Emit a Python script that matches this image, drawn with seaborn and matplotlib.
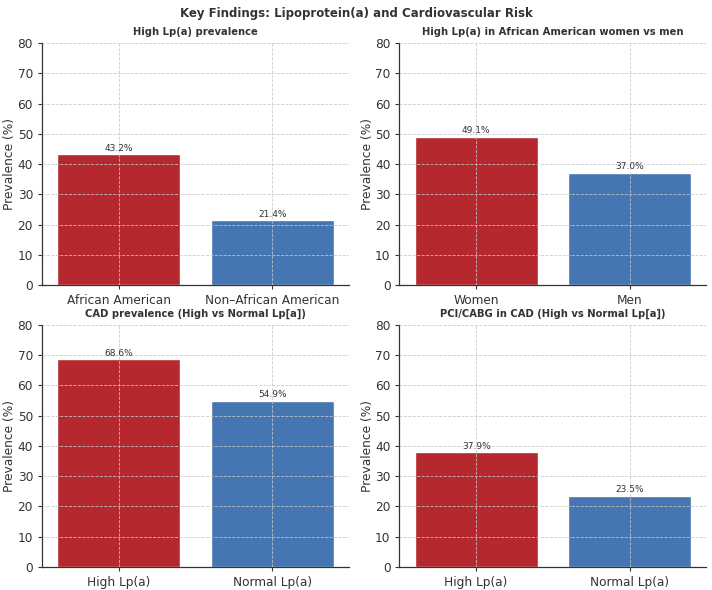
import matplotlib
matplotlib.use("Agg")
import matplotlib.pyplot as plt
import seaborn as sns
import pandas as pd

# panel data
titles = [
    "High Lp(a) prevalence",
    "High Lp(a) in African American women vs men",
    "CAD prevalence (High vs Normal Lp[a])",
    "PCI/CABG in CAD (High vs Normal Lp[a])",
]
categories = [
    ["African American", "Non\u2013African American"],
    ["Women", "Men"],
    ["High Lp(a)", "Normal Lp(a)"],
    ["High Lp(a)", "Normal Lp(a)"],
]
values = [
    [43.2, 21.4],
    [49.1, 37.0],
    [68.6, 54.9],
    [37.9, 23.5],
]
bar_colors = ["#b5292e", "#4676b1"]
text_color = "#333333"

sns.set_style("whitegrid")
plt.rcParams["font.family"] = ["DejaVu Sans"]

fig, axes = plt.subplots(2, 2, figsize=(7.12, 5.9), dpi=100)
fig.subplots_adjust(left=0.059, right=0.992, top=0.927, bottom=0.039, wspace=0.165, hspace=0.165)
fig.suptitle("Key Findings: Lipoprotein(a) and Cardiovascular Risk",
             fontsize=8.5, fontweight="bold", color=text_color, y=0.988)

for ax, title, cats, vals in zip(axes.flat, titles, categories, values):
    df = pd.DataFrame({"group": cats, "value": vals})
    sns.barplot(data=df, x="group", y="value", hue="group", palette=bar_colors,
                legend=False, width=0.8, saturation=1, ax=ax, zorder=1)
    for p, v in zip(ax.patches, vals):
        ax.text(p.get_x() + p.get_width() / 2, v + 0.6, f"{v:.1f}%",
                ha="center", va="bottom", fontsize=6.5, color=text_color)
    ax.set_ylim(0, 80)
    ax.set_title(title, fontsize=7.2, fontweight="bold", color=text_color, pad=6)
    ax.set_xlabel("")
    ax.set_ylabel("Prevalence (%)", fontsize=8.8, color=text_color, labelpad=1)
    ax.tick_params(axis="both", labelsize=8.7, colors=text_color, length=3, left=True, bottom=True)
    ax.grid(True, linestyle="--", linewidth=0.6, color="#c8c8c8", alpha=0.9, zorder=3)
    ax.set_axisbelow(False)
    for s in ["top", "right"]:
        ax.spines[s].set_visible(False)
    for s in ["left", "bottom"]:
        ax.spines[s].set_color(text_color)
        ax.spines[s].set_linewidth(0.9)

fig.savefig("out.png", dpi=100)
